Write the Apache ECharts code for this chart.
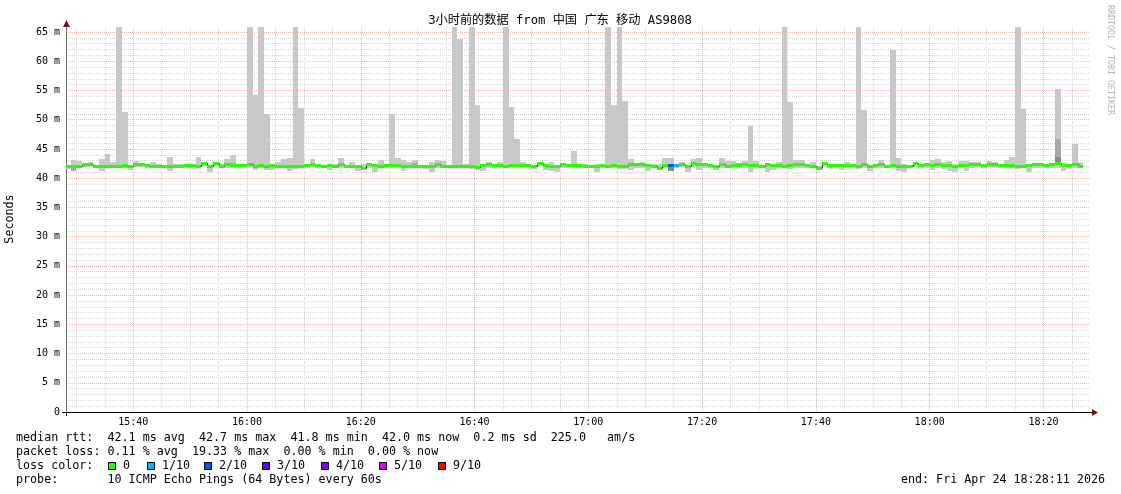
<!DOCTYPE html>
<html><head><meta charset="utf-8">
<script src="https://cdn.jsdelivr.net/npm/echarts@6/dist/echarts.min.js"></script>
<style>html,body{margin:0;padding:0;background:#fff}#c{width:1121px;height:494px}</style>
</head><body><div id="c"></div>
<script>
// ---- data (time in minutes since midnight, values in ms) ----
const firstBarMinute = 928;            // 15:28, one bar per minute
const axisStart = 928 + 11 / 60;       // 15:28:11
const axisEnd = axisStart + 180;       // 18:28:11

const medianRtt = [
42.0,42.1,42.1,42.4,42.4,42.0,42.0,42.1,42.1,42.0,
42.2,42.0,42.5,42.4,42.2,42.0,42.0,42.0,42.1,42.0,
42.1,42.2,42.2,42.0,42.6,42.0,42.6,42.0,42.4,42.2,
42.2,42.2,42.5,42.1,42.3,42.0,42.2,42.1,42.0,42.1,
42.1,42.1,42.2,42.5,42.3,42.0,42.2,42.0,42.4,42.0,
42.0,42.0,41.8,42.4,42.2,42.0,42.2,42.2,42.2,42.1,
42.1,42.1,42.0,42.1,42.1,42.4,42.0,42.0,42.0,42.1,
42.0,42.0,41.9,42.2,42.4,42.2,42.2,42.1,42.2,42.2,
42.2,42.2,42.0,42.6,42.2,42.1,42.0,42.4,42.2,42.2,
42.2,42.1,42.0,42.1,42.2,42.1,42.2,42.1,42.0,42.4,
42.4,42.4,42.2,42.0,41.8,42.2,42.2,42.2,42.5,42.0,
42.6,42.4,42.4,42.2,42.0,42.4,42.0,42.2,42.2,42.4,
42.2,42.2,42.0,42.4,42.2,42.2,42.1,42.2,42.4,42.4,
42.2,42.0,41.8,42.6,42.2,42.2,42.2,42.2,42.2,42.0,
42.4,42.0,42.2,42.4,42.0,42.2,42.0,42.0,42.0,42.6,
42.2,42.4,42.2,42.4,42.2,42.2,42.0,42.2,42.2,42.4,
42.5,42.2,42.5,42.5,42.2,42.2,42.2,42.0,42.0,42.2,
42.4,42.4,42.2,42.4,42.6,42.2,42.2,42.4,42.0];

const smokeLow = [
41.5,41.3,41.7,41.9,41.9,41.7,41.3,41.7,41.8,41.7,
41.8,41.4,41.9,41.9,41.7,41.7,41.7,41.7,41.3,41.8,
41.8,41.8,41.7,41.7,42.0,41.1,42.0,41.7,41.8,41.8,
41.8,41.8,41.9,41.4,41.8,41.4,41.4,41.8,41.7,41.3,
41.6,41.8,41.7,41.9,41.8,41.7,41.4,41.7,41.8,41.7,
41.7,41.3,41.5,41.8,41.1,41.7,41.8,41.8,41.7,41.3,
41.7,41.8,41.7,41.5,41.1,41.8,41.7,41.7,41.7,41.7,
41.7,41.6,41.4,41.3,41.8,41.8,41.8,41.7,41.8,41.8,
41.8,41.8,41.5,42.0,41.4,41.3,41.1,41.8,41.8,41.8,
41.7,41.7,41.7,41.1,41.8,41.7,41.8,41.6,41.5,41.4,
41.8,41.8,41.3,41.7,41.4,41.8,41.3,41.8,41.9,41.1,
41.9,41.4,41.8,41.8,41.4,41.8,41.7,41.8,41.8,41.8,
41.1,41.8,41.7,41.1,41.4,41.8,41.7,41.6,41.8,41.8,
41.8,41.7,41.5,42.0,41.8,41.8,41.4,41.8,41.8,41.5,
41.7,41.3,41.8,41.8,41.7,41.8,41.3,41.1,41.7,42.0,
41.8,41.8,41.4,41.8,41.5,41.3,41.1,41.8,41.3,41.8,
41.9,41.8,41.9,41.9,41.8,41.8,41.8,41.6,41.7,41.1,
41.8,41.8,41.8,41.8,41.8,41.3,41.8,41.8,41.7];

const smokeHigh = [
42.3,43.1,43.0,42.6,42.8,42.2,43.3,44.1,42.8,70,
51.4,42.3,43.0,42.6,42.4,42.8,42.5,42.3,43.7,42.5,
42.5,42.4,42.5,43.7,42.8,42.3,42.8,42.4,43.2,44.0,
42.4,42.5,70,54.2,70,51.0,42.5,42.8,43.2,43.5,
70,52.0,42.4,43.2,42.5,42.3,42.5,42.5,43.5,42.3,
42.8,42.3,42.5,42.6,42.4,43.1,42.4,51.0,43.5,43.1,
42.8,43.1,42.3,42.2,42.8,43.1,43.0,42.3,70,63.8,
42.5,70,52.5,42.4,42.8,42.4,42.8,70,52.1,46.7,
42.8,42.4,42.3,42.8,42.4,42.8,42.3,42.6,42.5,44.6,
42.4,42.4,42.3,42.5,42.4,70,52.5,70,53.2,43.2,
42.6,42.8,42.4,42.5,42.5,43.5,43.5,42.4,42.7,42.3,
43.2,43.5,42.6,42.4,42.3,43.5,42.9,42.9,42.5,42.9,
48.9,42.9,42.3,42.6,42.5,42.8,70,53.1,43.1,43.1,
42.4,42.7,42.1,42.8,42.5,42.4,42.4,42.8,42.5,70,
51.7,42.3,42.5,43.1,42.3,61.9,43.5,42.5,42.3,42.8,
42.4,42.6,43.1,43.2,42.8,42.9,42.3,42.9,42.9,42.7,
42.7,42.4,42.9,42.7,42.5,43.1,43.7,70,51.9,42.4,
42.5,42.6,42.5,42.5,55.3,42.4,42.5,45.8,42.8];

// inner (denser) smoke: [bar index, low, high, depth]
const darkBands = [
[1,41.3,41.8,1],[19,41.7,42.0,1],[22,42.2,42.5,1],[23,41.7,42.0,1],[27,41.7,42.0,1],
[29,42.2,42.6,1],[53,42.4,42.6,2],[55,41.7,42.0,1],[61,42.3,42.6,1],[83,42.4,42.7,1],
[106,41.3,42.0,2],[118,42.3,42.6,1],[140,42.3,42.6,1],[174,42.6,46.7,1],[174,42.6,43.7,2]];

// packet loss per bar (bar index, lost pings out of 10); all others 0
const lossAt = [[106,2],[107,1]];
const lossLevels = [0,1,2,3,4,5,9];
const lossLabels = ['0','1/10','2/10','3/10','4/10','5/10','9/10'];

const rttStats = ['42.1 ms avg','42.7 ms max','41.8 ms min','42.0 ms now','0.2 ms sd','225.0'];
const lossStats = ['0.11 % avg','19.33 % max','0.00 % min','0.00 % now'];
const probeText = '10 ICMP Echo Pings (64 Bytes) every 60s';
const endText = 'end: Fri Apr 24 18:28:11 2026';
const titleText = '3小时前的数据 from 中国 广东 移动 AS9808';

// ---- styles ----
const lossColorMap = {0:'#26ff00',1:'#00b8ff',2:'#0059ff',3:'#5e00ff',4:'#7e00ff',5:'#dd00ff',9:'#ff0000'};
const smokeColor = '#c8c8c8';
const darkColors = {1:'#a8a8a8', 2:'#888888'};
const MONO = '"DejaVu Sans Mono", monospace';
const TITLEFONT = '"DejaVu Sans Mono", "Noto Sans CJK SC", sans-serif';
const TEXTFONT = '11.7px ' + MONO;

const lossByBar = {};
lossAt.forEach(([k, l]) => { lossByBar[k] = l; });

const smokeData = smokeLow.map((lo, k) => [firstBarMinute + k, lo, smokeHigh[k]]);
const darkData = darkBands.map(([k, lo, hi, d]) => [firstBarMinute + k, lo, hi, d]);
const medData = medianRtt.map((m, k) => [firstBarMinute + k, m, k > 0 ? medianRtt[k - 1] : m, lossByBar[k] || 0]);

function clipRect(x0, y0, x1, y1, cs) {
  const r = {x: Math.round(x0), y: Math.round(y0), width: Math.round(x1) - Math.round(x0), height: Math.round(y1) - Math.round(y0)};
  return echarts.graphic.clipRectByRect(r, {x: cs.x, y: cs.y, width: cs.width, height: cs.height});
}

function renderBand(colorFn) {
  return function (params, api) {
    const t = api.value(0), lo = api.value(1), hi = api.value(2);
    const a = api.coord([t, hi]), b = api.coord([t + 1, lo]);
    const r = clipRect(a[0], a[1], b[0], b[1], params.coordSys);
    if (!r) return null;
    return {type: 'rect', shape: r, style: {fill: colorFn(api)}};
  };
}

function renderMedian(params, api) {
  const t = api.value(0), m = api.value(1), prev = api.value(2), loss = api.value(3);
  const a = api.coord([t, m]), b = api.coord([t + 1, m]), p = api.coord([t, prev]);
  const cs = params.coordSys;
  const x0 = Math.max(Math.round(a[0]), cs.x), x1 = Math.round(b[0]);
  const y = Math.round(a[1]), yp = Math.round(p[1]);
  return {type: 'group', children: [
    {type: 'polyline', shape: {points: [[x0 + 0.5, yp + 0.5], [x0 + 0.5, y + 0.5], [x1 + 0.5, y + 0.5]]},
      style: {stroke: '#202020', lineWidth: 1, fill: null}},
    {type: 'rect', shape: {x: x0, y: y - 1, width: x1 - x0, height: 3}, style: {fill: lossColorMap[loss]}}
  ]};
}

function fmtTime(v) {
  const h = Math.floor(v / 60), m = Math.round(v - h * 60);
  return String(h).padStart(2, '0') + ':' + String(m).padStart(2, '0');
}

const chart = echarts.init(document.getElementById('c'), null, {renderer: 'canvas'});

const graphics = [];
function txt(x, y, text, extra) {
  graphics.push({type: 'text', x, y, style: Object.assign({text, font: TEXTFONT, fill: '#000', align: 'left', verticalAlign: 'middle'}, extra || {})});
}
graphics.push({type: 'text', x: 560, y: 21, style: {text: titleText, font: '12.2px ' + TITLEFONT, fill: '#000', align: 'center', verticalAlign: 'middle'}});
graphics.push({type: 'text', x: 10, y: 219, rotation: Math.PI / 2, style: {text: 'Seconds', font: TEXTFONT, fill: '#000', align: 'center', verticalAlign: 'middle'}});
graphics.push({type: 'text', x: 1110, y: 60, rotation: -Math.PI / 2, style: {text: 'RRDTOOL / TOBI OETIKER', font: '8.3px ' + MONO, fill: '#b4b4b4', align: 'center', verticalAlign: 'middle'}});
// axis arrows and extensions
graphics.push({type: 'line', shape: {x1: 1090, y1: 412.5, x2: 1093, y2: 412.5}, style: {stroke: '#000', lineWidth: 1}});
graphics.push({type: 'line', shape: {x1: 62, y1: 412.5, x2: 66, y2: 412.5}, style: {stroke: '#000', lineWidth: 1}});
graphics.push({type: 'line', shape: {x1: 66.5, y1: 412, x2: 66.5, y2: 416}, style: {stroke: '#000', lineWidth: 1}});
graphics.push({type: 'polygon', shape: {points: [[1092, 409], [1098, 412.5], [1092, 416]]}, style: {fill: '#7a1010'}});
graphics.push({type: 'polygon', shape: {points: [[63, 27], [66.5, 20], [70, 27]]}, style: {fill: '#7a1010'}});
// stats lines
txt(16, 438, 'median rtt:  ' + rttStats.join('  ') + '   am/s');
txt(16, 452, 'packet loss: ' + lossStats.join('  '));
txt(16, 466, 'loss color:');
const boxX = [108, 147, 204, 262, 321, 379, 438];
lossLevels.forEach((l, i) => {
  graphics.push({type: 'rect', shape: {x: boxX[i] + 0.5, y: 462.5, width: 7, height: 7}, style: {fill: lossColorMap[l], stroke: '#000', lineWidth: 1}});
  txt(boxX[i] + 15, 466, lossLabels[i]);
});
txt(16, 480, 'probe:       ' + probeText);
txt(1105, 480, endText, {align: 'right'});

const majorGrid = {show: true, showMinLine: false, showMaxLine: false, lineStyle: {color: 'rgba(255,120,120,0.6)', type: [1, 1], width: 1}};
const minorGrid = {show: true, lineStyle: {color: '#d6d6d6', type: [1, 1], width: 1}};

chart.setOption({
  animation: false,
  backgroundColor: '#fff',
  grid: {left: 66, right: 31, top: 27, bottom: 82, containLabel: false},
  xAxis: {
    type: 'value', min: axisStart, max: axisEnd, splitNumber: 9, minInterval: 20, maxInterval: 20,
    axisLine: {show: true, onZero: false, lineStyle: {color: '#000', width: 1}},
    axisTick: {show: false},
    axisLabel: {formatter: fmtTime, fontFamily: MONO, fontSize: 10, color: '#000', margin: 5, showMinLabel: false, showMaxLabel: false},
    splitLine: majorGrid,
    minorTick: {show: false, splitNumber: 4},
    minorSplitLine: minorGrid
  },
  yAxis: {
    type: 'value', min: 0, max: 65.86, interval: 5,
    axisLine: {show: true, lineStyle: {color: '#707070', width: 1}},
    axisTick: {show: false},
    axisLabel: {formatter: v => v === 0 ? '0' : v + ' m', fontFamily: MONO, fontSize: 10, color: '#000', margin: 6, showMaxLabel: false},
    splitLine: majorGrid,
    minorTick: {show: false, splitNumber: 5},
    minorSplitLine: minorGrid
  },
  series: [
    {type: 'custom', name: 'smoke', data: smokeData, renderItem: renderBand(() => smokeColor), encode: {x: 0, y: [1, 2]}, z: 2, silent: true},
    {type: 'custom', name: 'smoke-dense', data: darkData, renderItem: renderBand(api => darkColors[api.value(3)]), encode: {x: 0, y: [1, 2]}, z: 3, silent: true},
    {type: 'custom', name: 'median', data: medData, renderItem: renderMedian, encode: {x: 0, y: 1}, z: 4, silent: true}
  ],
  graphic: {elements: graphics}
});
</script>
</body></html>
